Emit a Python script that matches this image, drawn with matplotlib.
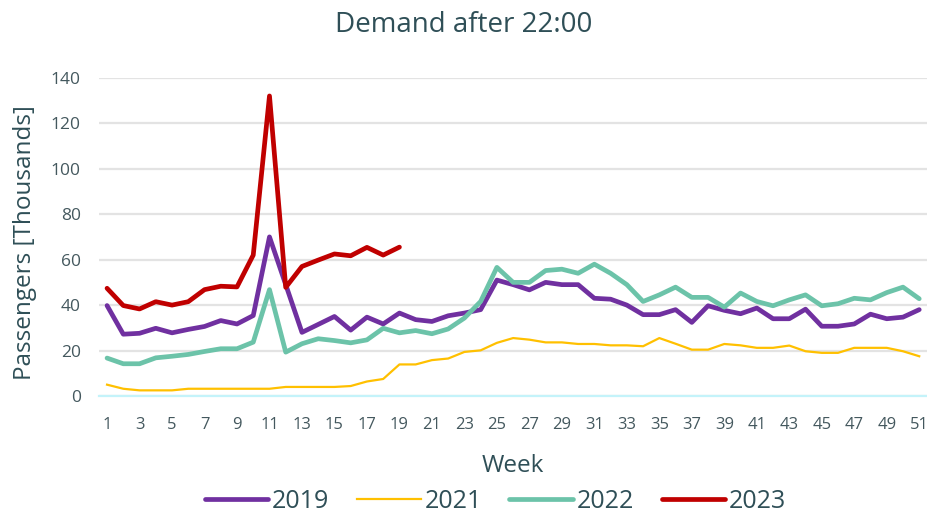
import matplotlib.pyplot as plt

plt.rcParams["font.family"] = ["Open Sans", "DejaVu Sans"]

weeks = list(range(1, 52))

demand_2019 = [39.8, 27.2, 27.6, 29.8, 27.8, 29.3, 30.6, 33.2, 31.7, 35.4,
               70.0, 49.0, 28.0, 31.5, 35.0, 29.0, 34.7, 31.7, 36.5, 33.6,
               32.8, 35.3, 36.5, 38.0, 51.0, 49.0, 46.7, 50.0, 49.0, 49.0,
               43.0, 42.6, 40.0, 35.8, 35.8, 38.0, 32.4, 39.7, 37.7, 36.2,
               38.7, 34.0, 34.0, 38.2, 30.7, 30.7, 31.7, 36.0, 34.0, 34.7,
               38.0]
demand_2021 = [5.0, 3.2, 2.5, 2.5, 2.5, 3.2, 3.2, 3.2, 3.2, 3.2,
               3.2, 4.0, 4.0, 4.0, 4.0, 4.4, 6.4, 7.5, 13.9, 13.9,
               15.8, 16.5, 19.4, 20.1, 23.4, 25.5, 24.8, 23.6, 23.6, 22.9,
               22.9, 22.3, 22.3, 21.9, 25.5, 23.0, 20.4, 20.4, 22.9, 22.3,
               21.2, 21.2, 22.2, 19.7, 19.0, 19.0, 21.2, 21.2, 21.2, 19.7,
               17.5]
demand_2022 = [16.7, 14.2, 14.2, 16.8, 17.5, 18.3, 19.6, 20.8, 20.8, 23.7,
               46.8, 19.3, 23.0, 25.2, 24.4, 23.4, 24.7, 29.8, 27.8, 28.8,
               27.4, 29.5, 34.3, 41.6, 56.6, 50.0, 50.0, 55.2, 55.8, 54.0,
               58.0, 54.0, 49.0, 41.6, 44.5, 47.9, 43.4, 43.4, 39.1, 45.3,
               41.6, 39.7, 42.3, 44.5, 39.7, 40.6, 43.0, 42.3, 45.5, 47.9,
               42.8]
weeks_2023 = list(range(1, 20))
demand_2023 = [47.4, 39.8, 38.3, 41.5, 40.0, 41.5, 46.8, 48.3, 48.0, 62.0,
               132.0, 47.8, 57.0, 59.8, 62.5, 61.7, 65.4, 62.0, 65.5]

text_col = "#2F4F57"
tick_col = "#44585E"

fig = plt.figure(figsize=(9.28, 5.15), dpi=100)
ax = fig.add_axes([0.1066, 0.231, 0.8927, 0.618])

ax.plot(weeks, demand_2019, color="#7030A0", lw=3.4, label="2019", solid_capstyle="round")
ax.plot(weeks, demand_2021, color="#FFC000", lw=1.6, label="2021")
ax.plot(weeks, demand_2022, color="#6CC3A9", lw=3.4, label="2022", solid_capstyle="round")
ax.plot(weeks_2023, demand_2023, color="#C00000", lw=3.4, label="2023", solid_capstyle="round")

ax.set_xlim(0.5, 51.5)
ax.set_ylim(0, 140)
ax.set_yticks(range(0, 141, 20))
ax.set_xticks(weeks[::2])
ax.grid(axis="y", color="#E3E3E3", lw=1.6)
ax.set_axisbelow(True)
for s in ["top", "right", "left"]:
    ax.spines[s].set_visible(False)
ax.spines["bottom"].set_color("#C4F3FA")
ax.spines["bottom"].set_linewidth(1.6)
ax.tick_params(length=0, labelsize=12, colors=tick_col)
ax.tick_params(axis="x", pad=15)
ax.tick_params(axis="y", pad=13, labelsize=12.5)
for line in ax.lines:
    line.set_clip_on(False)

fig.text(0.5, 1 - 32 / 515, "Demand after 22:00", fontsize=20, color=text_col,
         ha="center", va="baseline")
fig.text(513 / 928, 1 - 472 / 515, "Week", fontsize=17.5, color=text_col,
         ha="center", va="baseline")
fig.text(25 / 928, 1 - 243 / 515, "Passengers [Thousands]", fontsize=17.5,
         color=text_col, rotation=90, ha="center", va="center")

ax.legend(loc="center", bbox_to_anchor=(495.5 / 928, 1 - 501 / 515),
          bbox_transform=fig.transFigure, ncol=4, frameon=False,
          fontsize=18, handlelength=2.55, handletextpad=0.15, columnspacing=1.1,
          labelcolor=text_col)

fig.savefig("out.png", dpi=100)
